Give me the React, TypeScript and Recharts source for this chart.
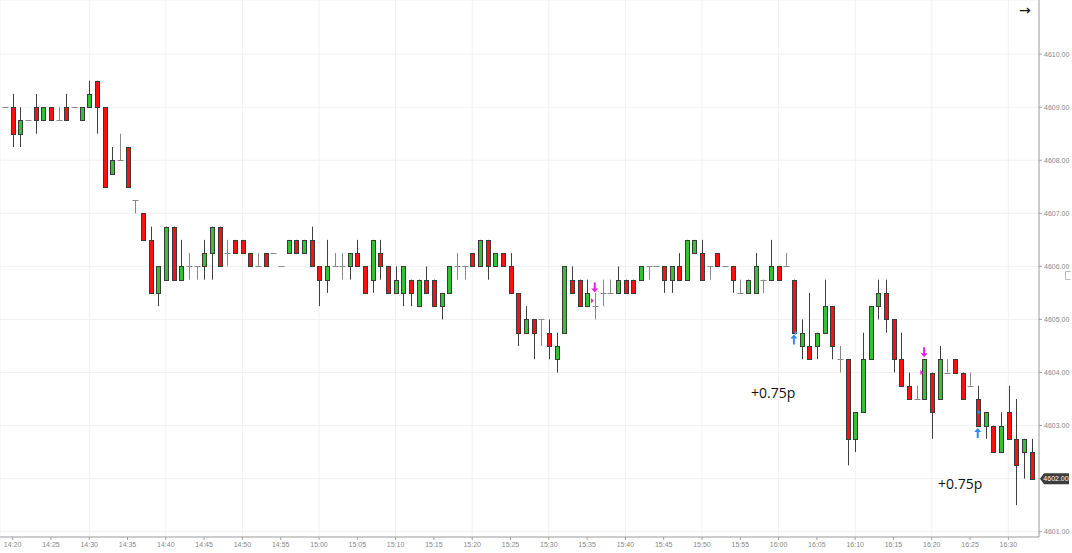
import React from "react";
import { ComposedChart, Bar, XAxis, YAxis, CartesianGrid, ReferenceDot } from "recharts";

// 1-minute candles, first one at 14:19
const startMinute = 14 * 60 + 19;

const opens = [
  4609, 4609, 4608.5, 4608.75, 4609, 4608.75, 4609, 4608.75, 4609, 4609,
  4608.75, 4609, 4609.5, 4609, 4607.75, 4608, 4608.25, 4607.25, 4607, 4606.5,
  4605.5, 4605.75, 4606.75, 4605.75, 4606, 4606, 4606, 4606.25, 4606.75, 4606.25,
  4606.5, 4606.5, 4606.25, 4606, 4606.25, 4606.25, 4606, 4606.25, 4606.5, 4606.25,
  4606.5, 4606, 4605.75, 4606, 4606, 4606, 4606.25, 4606, 4605.75, 4606.25,
  4606, 4605.5, 4605.5, 4605.75, 4605.25, 4605.75, 4605.75, 4605.25, 4605.5, 4606,
  4606, 4606.25, 4606, 4606.5, 4606, 4606.25, 4606, 4605.5, 4604.75, 4605,
  4605, 4604.75, 4604.25, 4604.75, 4605.75, 4605.75, 4605.25, 4605.25, 4605.5, 4605.5,
  4605.5, 4605.75, 4605.75, 4605.75, 4606, 4606, 4606, 4605.75, 4606, 4605.75,
  4606.25, 4606.25, 4606, 4606.25, 4606, 4606, 4605.5, 4605.5, 4605.5, 4605.75,
  4605.75, 4606, 4606, 4605.75, 4604.5, 4604.5, 4604.5, 4604.75, 4605.25, 4604.25,
  4604.25, 4602.75, 4603.25, 4604.25, 4605.25, 4605.5, 4605, 4604.25, 4603.75, 4603.5,
  4603.5, 4604, 4603.5, 4604, 4604.25, 4604, 4603.75, 4603.5, 4603, 4603,
  4602.5, 4603.25, 4602.75, 4602.5, 4602.5,
];
const highs = [
  4609, 4609.25, 4609, 4608.75, 4609.25, 4609, 4609, 4609, 4609.25, 4609,
  4609, 4609.5, 4609.5, 4609, 4608.25, 4608.5, 4608.25, 4607.25, 4607, 4606.75,
  4606, 4606.75, 4606.75, 4606.5, 4606.25, 4606, 4606.5, 4606.75, 4606.75, 4606.5,
  4606.5, 4606.5, 4606.25, 4606.25, 4606.25, 4606.25, 4606, 4606.5, 4606.5, 4606.5,
  4606.75, 4606, 4606.5, 4606.25, 4606.25, 4606.25, 4606.5, 4606, 4606.5, 4606.5,
  4606, 4606, 4606, 4605.75, 4605.75, 4606, 4605.75, 4605.5, 4606, 4606.25,
  4606, 4606.25, 4606.5, 4606.5, 4606.25, 4606.25, 4606.25, 4605.5, 4605.25, 4605,
  4605, 4605, 4604.75, 4606, 4606, 4605.75, 4605.75, 4605.5, 4605.75, 4605.75,
  4606, 4605.75, 4605.75, 4606, 4606, 4606, 4606, 4606, 4606.25, 4606.5,
  4606.5, 4606.5, 4606, 4606.25, 4606, 4606, 4605.75, 4605.75, 4606.25, 4605.75,
  4606.5, 4606, 4606.25, 4605.75, 4605, 4605.5, 4604.75, 4605.75, 4605.25, 4604.5,
  4604.25, 4603.25, 4604.75, 4605.25, 4605.75, 4605.75, 4605, 4604.75, 4604, 4603.75,
  4604.25, 4604, 4604.5, 4604.25, 4604.25, 4604, 4604, 4603.75, 4603.25, 4603,
  4603.25, 4603.75, 4603.5, 4602.75, 4602.75,
];
const lows = [
  4609, 4608.25, 4608.25, 4608.75, 4608.5, 4608.75, 4608.75, 4608.75, 4608.75, 4609,
  4608.75, 4609, 4608.5, 4607.5, 4607.75, 4608, 4607.5, 4607, 4606.5, 4605.5,
  4605.25, 4605.75, 4605.75, 4605.75, 4605.75, 4605.75, 4605.75, 4605.75, 4606, 4606,
  4606.25, 4606.25, 4606, 4606, 4606, 4606.25, 4606, 4606.25, 4606.25, 4606.25,
  4606, 4605.25, 4605.5, 4606, 4605.75, 4605.75, 4606, 4605.5, 4605.5, 4605.75,
  4605.5, 4605.5, 4605.25, 4605.25, 4605.25, 4605.5, 4605.25, 4605, 4605.5, 4605.75,
  4605.75, 4606, 4606, 4605.75, 4606, 4606, 4605.5, 4604.5, 4604.75, 4604.25,
  4604.5, 4604.25, 4604, 4604.75, 4605.5, 4605.25, 4605.25, 4605, 4605.25, 4605.5,
  4605.5, 4605.5, 4605.5, 4605.75, 4605.75, 4606, 4605.5, 4605.5, 4605.75, 4605.75,
  4606.25, 4605.75, 4605.75, 4606, 4606, 4605.5, 4605.5, 4605.5, 4605.5, 4605.5,
  4605.75, 4605.75, 4606, 4604.75, 4604.25, 4604.25, 4604.25, 4604.75, 4604.25, 4604,
  4602.25, 4602.5, 4603.25, 4604.25, 4605, 4604.75, 4604, 4603.75, 4603.5, 4603.5,
  4603.5, 4602.75, 4603.5, 4604, 4604, 4603.5, 4603.75, 4603, 4602.75, 4602.5,
  4602.5, 4602.75, 4601.5, 4602, 4602,
];
const closes = [
  4609, 4608.5, 4608.75, 4608.75, 4608.75, 4609, 4608.75, 4608.75, 4608.75, 4609,
  4609, 4609.25, 4609, 4607.5, 4608, 4608, 4607.5, 4607.25, 4606.5, 4605.5,
  4606, 4606.75, 4605.75, 4606, 4606, 4606, 4606.25, 4606.75, 4606, 4606.25,
  4606.25, 4606.25, 4606, 4606, 4606, 4606.25, 4606, 4606.5, 4606.25, 4606.5,
  4606, 4605.75, 4606, 4606, 4606, 4606.25, 4606, 4605.5, 4606.5, 4606,
  4605.5, 4605.75, 4606, 4605.5, 4605.75, 4605.5, 4605.25, 4605.5, 4606, 4606,
  4606, 4606, 4606.5, 4606, 4606.25, 4606, 4605.5, 4604.75, 4605, 4604.75,
  4605, 4604.5, 4604.5, 4606, 4605.5, 4605.25, 4605.5, 4605.25, 4605.5, 4605.5,
  4605.75, 4605.5, 4605.5, 4606, 4606, 4606, 4605.75, 4606, 4605.75, 4606.5,
  4606.5, 4605.75, 4606, 4606, 4606, 4605.75, 4605.5, 4605.75, 4606, 4605.75,
  4606, 4605.75, 4606, 4604.75, 4604.75, 4604.25, 4604.75, 4605.25, 4604.5, 4604.25,
  4602.75, 4603.25, 4604.25, 4605.25, 4605.5, 4605, 4604.25, 4603.75, 4603.5, 4603.5,
  4604.25, 4603.25, 4604.25, 4604, 4604, 4603.5, 4603.75, 4603, 4603.25, 4602.5,
  4603, 4602.75, 4602.25, 4602.75, 4602,
];

const timeTicks = [
  "14:20", "14:25", "14:30", "14:35", "14:40", "14:45", "14:50", "14:55", "15:00", "15:05",
  "15:10", "15:15", "15:20", "15:25", "15:30", "15:35", "15:40", "15:45", "15:50", "15:55",
  "16:00", "16:05", "16:10", "16:15", "16:20", "16:25", "16:30",
];
const priceTicks = [4601, 4602, 4603, 4604, 4605, 4606, 4607, 4608, 4609, 4610];
const lastPrice = 4602;

// trade markers (candle index, price)
const buyArrows = [{ i: 103, p: 4604.62 }, { i: 127, p: 4602.86 }];
const sellArrows = [{ i: 77, p: 4605.6 }, { i: 120, p: 4604.38 }];
const buyFills = [{ i: 103.3, p: 4604.75 }, { i: 127.2, p: 4603.25 }];
const sellFills = [{ i: 76.7, p: 4605.35 }, { i: 119.7, p: 4604 }];
const profitNotes = [
  { i: 100.3, p: 4603.62, text: "+0.75p" },
  { i: 124.7, p: 4601.9, text: "+0.75p" },
];

const toIndex = (t: string) => {
  const [h, m] = t.split(":").map(Number);
  return h * 60 + m - startMinute;
};
const toTime = (i: number) => {
  const m = startMinute + Math.round(i);
  return `${Math.floor(m / 60)}:${String(m % 60).padStart(2, "0")}`;
};

const candles = opens.map((o, i) => ({
  i,
  o,
  h: highs[i],
  l: lows[i],
  c: closes[i],
  range: [lows[i], highs[i]],
}));

const Candle = (props: any) => {
  const { x, y, width, height, payload } = props;
  if (x == null || y == null) return null;
  const { o, h, l, c } = payload;
  const top = Math.min(y, y + height);
  const hgt = Math.abs(height);
  const ppu = h - l > 0 ? hgt / (h - l) : 0;
  const yOf = (v: number) => top + (h - v) * ppu;
  const cx = Math.round(x + width / 2) + 0.5;
  if (o === c) {
    const yy = Math.round(yOf(o)) + 0.5;
    return (
      <g>
        {h !== l && <line x1={cx} x2={cx} y1={yOf(h)} y2={yOf(l)} stroke="#888" strokeWidth={1} />}
        <line x1={cx - 3} x2={cx + 3} y1={yy} y2={yy} stroke="#8a8a8a" strokeWidth={1} />
      </g>
    );
  }
  const up = c > o;
  const bTop = Math.round(yOf(Math.max(o, c))) + 0.5;
  const bBot = Math.round(yOf(Math.min(o, c))) + 0.5;
  return (
    <g>
      <line x1={cx} x2={cx} y1={yOf(h)} y2={yOf(l)} stroke="#404040" strokeWidth={1} />
      <rect
        x={cx - 2}
        y={bTop}
        width={4}
        height={bBot - bTop}
        fill={up ? "#34c234" : "#ff1010"}
        stroke="#3a3a3a"
        strokeWidth={1}
      />
    </g>
  );
};

const UpArrow = ({ cx, cy }: any) => (
  <path
    d={`M${cx},${cy - 5} L${cx + 3.5},${cy - 1} L${cx + 1},${cy - 1} L${cx + 1},${cy + 5} L${cx - 1},${cy + 5} L${cx - 1},${cy - 1} L${cx - 3.5},${cy - 1} Z`}
    fill="#2f8ff0"
  />
);
const DownArrow = ({ cx, cy }: any) => (
  <path
    d={`M${cx},${cy + 5} L${cx + 3.5},${cy + 1} L${cx + 1},${cy + 1} L${cx + 1},${cy - 5} L${cx - 1},${cy - 5} L${cx - 1},${cy + 1} L${cx - 3.5},${cy + 1} Z`}
    fill="#e81fe8"
  />
);
const fillTri = (color: string) => ({ cx, cy }: any) => (
  <path d={`M${cx - 1.5},${cy - 2.5} L${cx + 1.5},${cy} L${cx - 1.5},${cy + 2.5} Z`} fill={color} />
);
const noteShape = (text: string) => ({ cx, cy }: any) => (
  <text
    x={cx}
    y={cy}
    textAnchor="middle"
    dominantBaseline="central"
    fontFamily="'Open Sans', sans-serif"
    fontSize={14}
    fill="#111"
  >
    {text}
  </text>
);
const PriceBox = ({ cx, cy }: any) => (
  <g>
    <path
      d={`M${cx + 1},${cy} L${cx + 5},${cy - 5.5} L${cx + 30},${cy - 5.5} L${cx + 30},${cy + 5.5} L${cx + 5},${cy + 5.5} Z`}
      fill="#3d3d3d"
    />
    <text x={cx + 17} y={cy} textAnchor="middle" dominantBaseline="central" fontSize={7} fill="#fff" fontFamily="'Liberation Sans', Arial, sans-serif">
      {lastPrice.toFixed(2)}
    </text>
  </g>
);

const YTick = (props: any) => {
  const { x, y, payload } = props;
  if (payload.value === lastPrice) return null;
  return (
    <text x={x} y={y} dy={2.5} fontSize={7} fill="#888" fontFamily="'Liberation Sans', Arial, sans-serif">
      {Number(payload.value).toFixed(2)}
    </text>
  );
};

export default function App() {
  return (
    <div style={{ position: "absolute", left: 0, top: 0, width: 1072, height: 553, background: "#fff" }}>
      <ComposedChart
        width={1072}
        height={553}
        data={candles}
        margin={{ top: 0, right: 0, bottom: 0, left: 0 }}
      >
        <CartesianGrid stroke="#f1f1f1" />
        <XAxis
          dataKey="i"
          type="number"
          domain={[-0.65, 135]}
          allowDataOverflow
          ticks={timeTicks.map(toIndex)}
          tickFormatter={toTime}
          height={16}
          tickSize={3}
          tickMargin={2}
          stroke="#a0a0a0"
          tick={{ fontSize: 7, fill: "#888", fontFamily: "'Liberation Sans', Arial, sans-serif" }}
        />
        <YAxis
          orientation="right"
          type="number"
          domain={[4600.9, 4611.02]}
          allowDataOverflow
          ticks={priceTicks}
          width={33}
          tickSize={3}
          tickMargin={2}
          stroke="#a0a0a0"
          tick={<YTick />}
        />
        <Bar dataKey="range" barSize={6} shape={<Candle />} isAnimationActive={false} />
        {buyArrows.map((m, k) => (
          <ReferenceDot key={`ba${k}`} x={m.i} y={m.p} shape={UpArrow} />
        ))}
        {sellArrows.map((m, k) => (
          <ReferenceDot key={`sa${k}`} x={m.i} y={m.p} shape={DownArrow} />
        ))}
        {buyFills.map((m, k) => (
          <ReferenceDot key={`bf${k}`} x={m.i} y={m.p} shape={fillTri("#2f8ff0")} />
        ))}
        {sellFills.map((m, k) => (
          <ReferenceDot key={`sf${k}`} x={m.i} y={m.p} shape={fillTri("#e81fe8")} />
        ))}
        {profitNotes.map((m, k) => (
          <ReferenceDot key={`pn${k}`} x={m.i} y={m.p} shape={noteShape(m.text)} />
        ))}
        <ReferenceDot x={135} y={lastPrice} shape={PriceBox} />
      </ComposedChart>
      <span
        style={{
          position: "absolute",
          left: 1019,
          top: 2,
          fontSize: 14,
          fontFamily: "'DejaVu Sans', sans-serif",
          color: "#111",
        }}
      >
        →
      </span>
      <svg style={{ position: "absolute", left: 1064, top: 270 }} width={8} height={12}>
        <path d="M6.5,1.5 H1.5 V9.5 H6.5" fill="none" stroke="#bbb" strokeWidth={1} />
      </svg>
    </div>
  );
}
